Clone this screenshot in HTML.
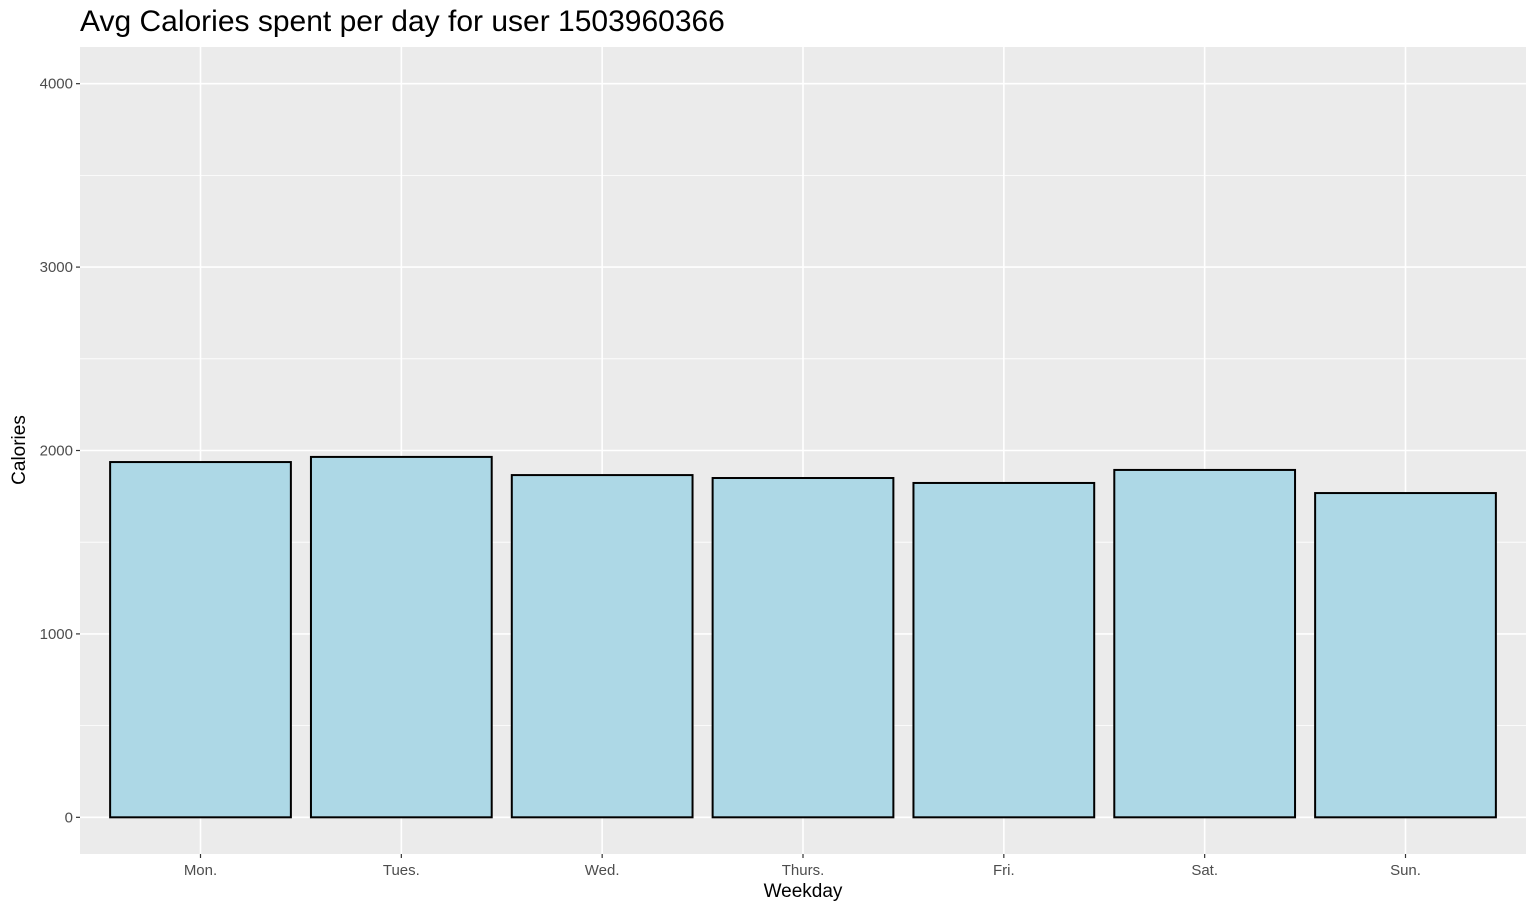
<!DOCTYPE html>
<html><head><meta charset="utf-8"><style>
body{margin:0;background:#fff}
svg text{font-family:"Liberation Sans",Arial,sans-serif}
</style></head><body>
<svg id="chart" width="1534" height="908" xmlns="http://www.w3.org/2000/svg">
<text x="80" y="31" font-size="30" fill="#000">Avg Calories spent per day for user 1503960366</text>
<rect x="80" y="47" width="1446" height="807" fill="#ebebeb"/>
<g id="grid"></g>
<g id="bars"></g>
<g id="axes"></g>
<text x="803" y="897" font-size="19" text-anchor="middle" fill="#000">Weekday</text>
<text transform="translate(25,450) rotate(-90)" font-size="19" text-anchor="middle" fill="#000">Calories</text>
</svg>
<script>
const categories=["Mon.","Tues.","Wed.","Thurs.","Fri.","Sat.","Sun."];
const values=[1937,1965,1866,1850,1823,1894,1768];
const yTicks=[0,1000,2000,3000,4000];
const yMinor=[500,1500,2500,3500];
const NS="http://www.w3.org/2000/svg";
const px0=80,px1=1526,py0=47,py1=854;
const yMin=-200,yMax=4200;
const y=v=>py1-(v-yMin)/(yMax-yMin)*(py1-py0);
const x=i=>px0+(i+1-0.4)/7.2*(px1-px0);
const bw=0.9*(px1-px0)/7.2;
function mk(t,a,p){const e=document.createElementNS(NS,t);for(const k in a)e.setAttribute(k,a[k]);p.appendChild(e);return e;}
const grid=document.getElementById('grid'),bars=document.getElementById('bars'),axes=document.getElementById('axes');
yMinor.forEach(v=>{const l=mk('line',{x1:px0,x2:px1,y1:y(v),y2:y(v),stroke:'#fff','stroke-width':0.8},grid);

});
yTicks.forEach(v=>{const l=mk('line',{x1:px0,x2:px1,y1:y(v),y2:y(v),stroke:'#fff','stroke-width':1.6},grid);


const t=mk('line',{x1:px0-4,x2:px0,y1:y(v),y2:y(v),stroke:'#333','stroke-width':1.2},axes);


const tx=mk('text',{x:px0-7,y:y(v)+5,'font-size':15,'text-anchor':'end',fill:'#4d4d4d'},axes);tx.textContent=v;

});
categories.forEach((c,i)=>{const l=mk('line',{x1:x(i),x2:x(i),y1:py0,y2:py1,stroke:'#fff','stroke-width':1.6},grid);


const r=mk('rect',{x:x(i)-bw/2,y:y(values[i]),width:bw,height:y(0)-y(values[i]),fill:'#add8e6',stroke:'#000','stroke-width':2},bars);


const t=mk('line',{x1:x(i),x2:x(i),y1:py1,y2:py1+4,stroke:'#333','stroke-width':1.2},axes);


const tx=mk('text',{x:x(i),y:py1+21,'font-size':15,'text-anchor':'middle',fill:'#4d4d4d'},axes);tx.textContent=c;

});
</script>
</body></html>
